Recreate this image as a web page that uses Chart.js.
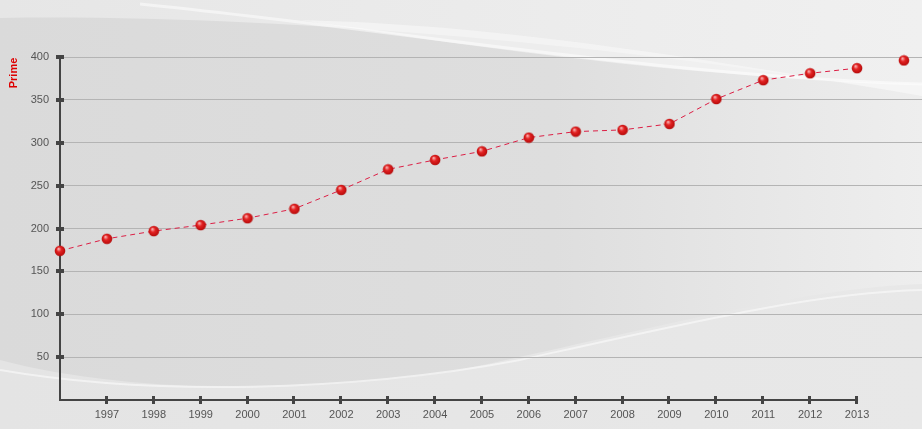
<!DOCTYPE html>
<html>
<head>
<meta charset="utf-8">
<script src="https://cdn.jsdelivr.net/npm/chart.js@4.4.0/dist/chart.umd.min.js"></script>
<style>
  html, body { margin: 0; padding: 0; background: #e2e2e2; }
  #wrap { width: 922px; height: 429px; }
</style>
</head>
<body>
<div id="wrap"><canvas id="myChart"></canvas></div>
<script>
// data
const years = [1996, 1997, 1998, 1999, 2000, 2001, 2002, 2003, 2004, 2005, 2006, 2007, 2008, 2009, 2010, 2011, 2012, 2013, 2014]
const prime = [174, 188, 197, 204, 212, 223, 245, 269, 280, 290, 306, 313, 315, 322, 351, 373, 381, 387, 396]
const yTicks = [50, 100, 150, 200, 250, 300, 350, 400]
const xLabels = [1997, 1998, 1999, 2000, 2001, 2002, 2003, 2004, 2005, 2006, 2007, 2008, 2009, 2010, 2011, 2012, 2013]

// red glossy ball used as marker
function makeBall() {
  let c = document.createElement('canvas')
  c.width = 12; c.height = 12
  let g = c.getContext('2d')
  let grad = g.createRadialGradient(4.5, 4, 0.5, 6, 6, 6)
  grad.addColorStop(0, '#f7a8a8')
  grad.addColorStop(0.35, '#e42424')
  grad.addColorStop(0.85, '#bb0c0c')
  grad.addColorStop(1, '#8a0505')
  g.fillStyle = grad
  g.beginPath()
  g.arc(6, 6, 5.3, 0, Math.PI * 2)
  g.fill()
  return c
}
const ball = makeBall()

const background = {
  id: 'background',
  beforeDraw(chart) {
    let ctx = chart.ctx
    let w = chart.width, h = chart.height
    ctx.save()
    // base
    let base = ctx.createLinearGradient(0, 0, w, 0)
    base.addColorStop(0, '#dadada')
    base.addColorStop(0.6, '#dedede')
    base.addColorStop(1, '#eeeeee')
    ctx.fillStyle = base
    ctx.fillRect(0, 0, w, h)

    // top light band
    let top = ctx.createLinearGradient(0, 0, w, 0)
    top.addColorStop(0, '#e6e6e6')
    top.addColorStop(1, '#f0f0f0')
    ctx.fillStyle = top
    ctx.beginPath()
    ctx.moveTo(0, 0)
    ctx.lineTo(0, 18)
    ctx.bezierCurveTo(250, 14, 600, 40, 922, 96)
    ctx.lineTo(w, 0)
    ctx.closePath()
    ctx.fill()

    // lighter wedge between swoosh and dark region on the right
    ctx.fillStyle = 'rgba(250,250,250,0.55)'
    ctx.beginPath()
    ctx.moveTo(300, 20)
    ctx.bezierCurveTo(550, 60, 750, 80, 922, 84)
    ctx.lineTo(922, 96)
    ctx.bezierCurveTo(600, 40, 450, 24, 300, 20)
    ctx.fill()

    // top swoosh line
    ctx.strokeStyle = 'rgba(255,255,255,0.5)'
    ctx.lineWidth = 3
    ctx.beginPath()
    ctx.moveTo(140, 4)
    ctx.bezierCurveTo(400, 30, 650, 75, 922, 84)
    ctx.stroke()

    // bottom light area
    let bot = ctx.createLinearGradient(0, 0, w, 0)
    bot.addColorStop(0, '#e4e4e4')
    bot.addColorStop(1, '#e8e8e8')
    ctx.fillStyle = bot
    ctx.beginPath()
    ctx.moveTo(0, 360)
    ctx.bezierCurveTo(120, 392, 300, 395, 450, 372)
    ctx.bezierCurveTo(650, 330, 800, 288, 922, 284)
    ctx.lineTo(w, h)
    ctx.lineTo(0, h)
    ctx.closePath()
    ctx.fill()

    // bottom swoosh line
    ctx.strokeStyle = 'rgba(248,248,248,0.7)'
    ctx.lineWidth = 2
    ctx.beginPath()
    ctx.moveTo(0, 370)
    ctx.bezierCurveTo(150, 396, 350, 392, 520, 360)
    ctx.bezierCurveTo(700, 320, 820, 292, 922, 290)
    ctx.stroke()
    ctx.restore()
  }
}

const axes = {
  id: 'axes',
  beforeDatasetsDraw(chart) {
    let ctx = chart.ctx
    let x = chart.scales.x, y = chart.scales.y
    let left = x.getPixelForValue(1996)
    let right = x.getPixelForValue(2013)
    let bottom = y.getPixelForValue(0)
    ctx.save()
    ctx.fillStyle = '#444444'
    // y axis line
    ctx.fillRect(left - 1, y.getPixelForValue(400) - 1, 2, bottom - y.getPixelForValue(400) + 2)
    // x axis line
    ctx.fillRect(left - 1, bottom - 1, right - left + 2, 2)
    yTicks.forEach(v => {
      let py = Math.round(y.getPixelForValue(v))
      ctx.fillRect(left - 4, py - 2, 8, 4)
    })
    xLabels.forEach(v => {
      let px = Math.round(x.getPixelForValue(v))
      ctx.fillRect(px - 2, bottom - 4, 3, 8)
    })
    // axis title
    ctx.fillStyle = '#dd0000'
    ctx.font = 'bold 11px "Liberation Sans", Arial, sans-serif'
    ctx.textAlign = 'center'
    ctx.textBaseline = 'middle'
    ctx.translate(14, 73)
    ctx.rotate(-Math.PI / 2)
    ctx.fillText('Prime', 0, 0)
    ctx.restore()
  }
}

const ctx = document.getElementById('myChart')

new Chart(ctx, {
  type: 'line',
  data: {
    datasets: [{
      data: years.map((yr, i) => ({ x: yr, y: prime[i] })),
      borderColor: '#dc1f45',
      borderWidth: 1,
      borderDash: [5, 4],
      pointStyle: ball,
      pointRadius: 6,
      fill: false,
      tension: 0,
      clip: false,
      segment: {
        borderColor: c => c.p1DataIndex === years.length - 1 ? 'rgba(0,0,0,0)' : '#dc1f45'
      }
    }]
  },
  options: {
    responsive: true,
    maintainAspectRatio: false,
    animation: false,
    layout: { autoPadding: false, padding: { top: 57, left: 0, right: 0, bottom: 0 } },
    plugins: {
      legend: { display: false },
      tooltip: { enabled: false }
    },
    scales: {
      x: {
        type: 'linear',
        min: 1996,
        max: 2014.386,
        afterFit: s => { s.height = 29; s.paddingLeft = 0; s.paddingRight = 0 },
        afterBuildTicks: s => { s.ticks = xLabels.map(v => ({ value: v })) },
        grid: { display: false, drawTicks: false },
        border: { display: false },
        ticks: {
          padding: 8,
          maxRotation: 0,
          autoSkip: false,
          color: '#555555',
          font: { family: '"Liberation Sans", Arial, sans-serif', size: 11 },
          callback: v => String(v)
        }
      },
      y: {
        min: 0,
        max: 400,
        afterFit: s => { s.width = 60; s.paddingTop = 0; s.paddingBottom = 0 },
        afterBuildTicks: s => { s.ticks = yTicks.map(v => ({ value: v })) },
        grid: { color: '#b4b4b4', lineWidth: 1, drawTicks: false },
        border: { display: false },
        ticks: {
          padding: 11,
          color: '#555555',
          font: { family: '"Liberation Sans", Arial, sans-serif', size: 11 }
        }
      }
    }
  },
  plugins: [background, axes]
});
</script>
</body>
</html>
